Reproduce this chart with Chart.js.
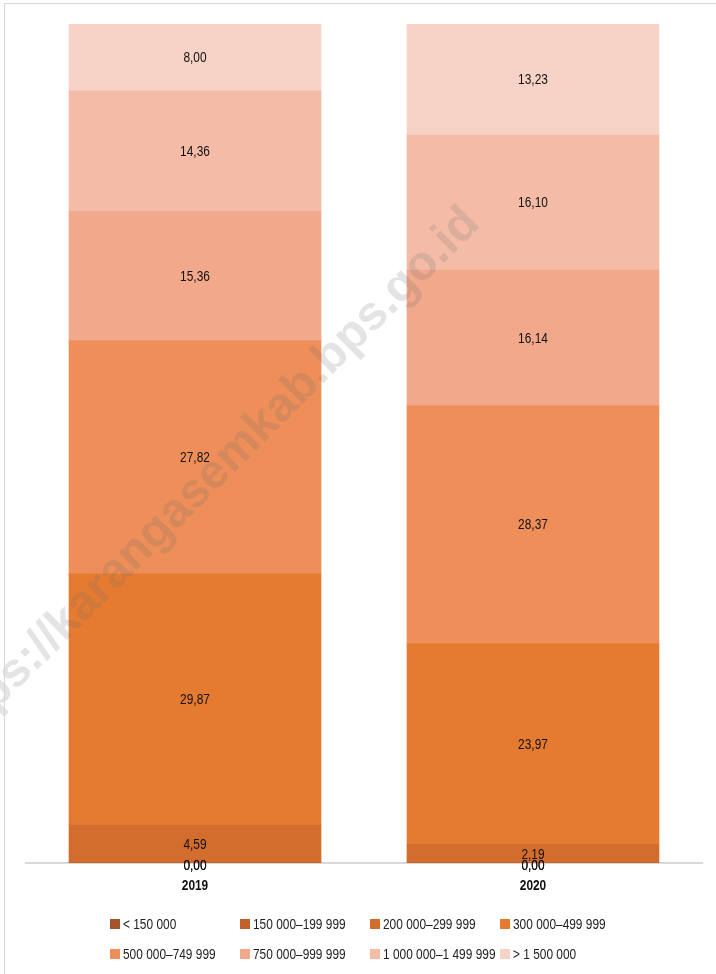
<!DOCTYPE html>
<html>
<head>
<meta charset="utf-8">
<script src="https://cdn.jsdelivr.net/npm/chart.js@4.4.0/dist/chart.umd.min.js"></script>
<style>
    html, body { margin: 0; padding: 0; background: #fff; }
    #wrap { position: relative; width: 716px; height: 974px; overflow: hidden; }
    #frame { position: absolute; left: 4px; top: 3px; right: -10px; bottom: -10px; border-left: 1px solid #d6d6d6; border-top: 1px solid #d6d6d6; pointer-events: none; }
    canvas { position: absolute; left: 0; top: 0; }
</style>
</head>
<body>
<div id="wrap">
    <canvas id="myChart" width="716" height="974"></canvas>
    <div id="frame"></div>
</div>
<script>
    const years = ['2019', '2020'];
    const groups = ['< 150 000', '150 000–199 999', '200 000–299 999', '300 000–499 999',
        '500 000–749 999', '750 000–999 999', '1 000 000–1 499 999', '> 1 500 000'];
    const below150 = [0.00, 0.00];
    const from150 = [0.00, 0.00];
    const from200 = [4.59, 2.19];
    const from300 = [29.87, 23.97];
    const from500 = [27.82, 28.37];
    const from750 = [15.36, 16.14];
    const from1000 = [14.36, 16.10];
    const above1500 = [8.00, 13.23];
    const colors = ['#a4552a', '#c1622a', '#d26d2d', '#e57a31', '#ee8e59', '#f2a88a', '#f4bca7', '#f7d2c6'];

    const series = [below150, from150, from200, from300, from500, from750, from1000, above1500];

    // condensed look: Liberation Sans squeezed horizontally
    function narrowText(ctx, text, x, y, align, bold) {
        ctx.save();
        ctx.translate(x, y);
        ctx.scale(0.85, 1);
        ctx.font = (bold ? 'bold ' : '') + "14px 'Liberation Sans', Arial, sans-serif";
        ctx.textAlign = align;
        ctx.textBaseline = 'middle';
        ctx.fillText(text, 0, 0);
        ctx.restore();
    }

    const valueLabels = {
        id: 'valueLabels',
        afterDatasetsDraw(chart) {
            const ctx = chart.ctx;
            // watermark
            ctx.save();
            ctx.translate(472, 216);
            ctx.rotate(-Math.PI / 4);
            ctx.font = "bold 48px 'Liberation Sans', Arial, sans-serif";
            ctx.fillStyle = 'rgba(110, 110, 110, 0.19)';
            ctx.textAlign = 'right';
            ctx.textBaseline = 'middle';
            ctx.fillText('https://karangasemkab.bps.go.id', 0, 0);
            ctx.restore();

            ctx.fillStyle = '#111';
            chart.data.datasets.forEach((ds, i) => {
                const meta = chart.getDatasetMeta(i);
                meta.data.forEach((bar, j) => {
                    const v = ds.data[j];
                    const y = (bar.y + bar.base) / 2 + (v === 0 ? 3 : 1);
                    narrowText(ctx, v.toFixed(2).replace('.', ','), bar.x, y, 'center', false);
                });
            });
        },
        afterDraw(chart) {
            const ctx = chart.ctx;
            const xScale = chart.scales.x;
            ctx.fillStyle = '#111';
            years.forEach((yr, i) => {
                narrowText(ctx, yr, xScale.getPixelForTick(i), 886, 'center', true);
            });
            groups.forEach((g, i) => {
                const col = i % 4;
                const row = Math.floor(i / 4);
                const x = 110 + col * 130;
                const y = 924 + row * 30;
                ctx.fillStyle = colors[i];
                ctx.fillRect(x, y - 5, 10, 10);
                ctx.fillStyle = '#222';
                narrowText(ctx, g, x + 13, y + 1, 'left', false);
            });
        }
    };

    const ctx = document.getElementById('myChart').getContext('2d');
    const incomeChart = new Chart(ctx, {
        type: 'bar',
        data: {
            labels: years,
            datasets: series.map((d, i) => ({
                label: groups[i],
                data: d,
                backgroundColor: colors[i],
                borderWidth: 0,
                barThickness: 252
            }))
        },
        options: {
            responsive: false,
            animation: false,
            layout: { padding: { left: 26, right: 14, top: 24, bottom: 0 } },
            plugins: {
                legend: { display: false },
                tooltip: { enabled: false }
            },
            scales: {
                x: {
                    stacked: true,
                    grid: { display: false, drawTicks: false },
                    border: { display: true, color: '#d9d9d9', width: 2 },
                    ticks: { display: false },
                    afterFit(scale) { scale.height = 111; }
                },
                y: {
                    stacked: true,
                    display: false,
                    min: 0,
                    max: 100
                }
            }
        },
        plugins: [valueLabels]
    });
</script>
</body>
</html>
